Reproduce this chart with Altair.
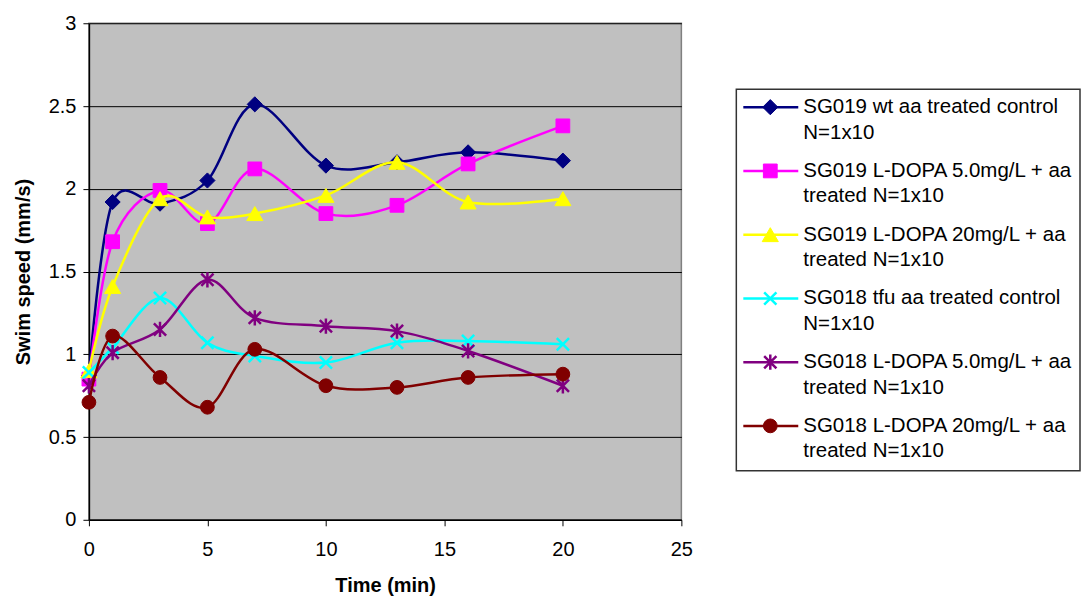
import altair as alt
import pandas as pd

# ---------------- data ----------------
times = [0, 1, 3, 5, 7, 10, 13, 16, 20]

series_names = [
    "SG019 wt aa treated control N=1x10",
    "SG019 L-DOPA 5.0mg/L + aa treated N=1x10",
    "SG019 L-DOPA 20mg/L + aa treated N=1x10",
    "SG018 tfu aa treated control N=1x10",
    "SG018 L-DOPA 5.0mg/L + aa treated N=1x10",
    "SG018 L-DOPA 20mg/L + aa treated N=1x10",
]
legend_labels = [
    "SG019 wt aa treated control\nN=1x10",
    "SG019 L-DOPA 5.0mg/L + aa\ntreated N=1x10",
    "SG019 L-DOPA 20mg/L + aa\ntreated N=1x10",
    "SG018 tfu aa treated control\nN=1x10",
    "SG018 L-DOPA 5.0mg/L + aa\ntreated N=1x10",
    "SG018 L-DOPA 20mg/L + aa\ntreated N=1x10",
]

sg019_wt_control = [0.87, 1.92, 1.91, 2.05, 2.51, 2.14, 2.16, 2.22, 2.17]
sg019_ldopa_5 = [0.85, 1.68, 1.99, 1.79, 2.12, 1.85, 1.90, 2.15, 2.38]
sg019_ldopa_20 = [0.90, 1.41, 1.94, 1.83, 1.85, 1.96, 2.16, 1.92, 1.94]
sg018_tfu_control = [0.89, 1.04, 1.34, 1.07, 0.99, 0.95, 1.07, 1.08, 1.06]
sg018_ldopa_5 = [0.81, 1.01, 1.15, 1.45, 1.22, 1.17, 1.14, 1.02, 0.81]
sg018_ldopa_20 = [0.71, 1.11, 0.86, 0.68, 1.03, 0.81, 0.80, 0.86, 0.88]

series_values = [sg019_wt_control, sg019_ldopa_5, sg019_ldopa_20,
                 sg018_tfu_control, sg018_ldopa_5, sg018_ldopa_20]

x_ticks = [0, 5, 10, 15, 20, 25]
y_ticks = [0, 0.5, 1, 1.5, 2, 2.5, 3]

# ---------------- styles ----------------
colors = ["#000080", "#FF00FF", "#FFFF00", "#00FFFF", "#800080", "#800000"]
X_PATH = "M-1,-1L1,1M-1,1L1,-1"
STAR_PATH = "M-1,-1L1,1M-1,1L1,-1M0,-1.25L0,1.25"
shapes = ["diamond", "square", "triangle-up", X_PATH, STAR_PATH, "circle"]
sizes = [230, 190, 260, 150, 150, 190]
stroke_widths = [1, 1, 1, 2.5, 2.5, 1]

FONT = "Liberation Sans"

rows = []
for name, vals in zip(series_names, series_values):
    for t, v in zip(times, vals):
        rows.append({"series": name, "time": t, "speed": v})
df = pd.DataFrame(rows)

legend_df = pd.DataFrame({"series": series_names, "label": legend_labels})

x_enc = alt.X(
    "time:Q",
    scale=alt.Scale(domain=[0, 25], nice=False, zero=False),
    axis=alt.Axis(values=x_ticks, title="Time (min)", grid=False,
                  tickSize=6, tickColor="black", labelPadding=14,
                  labelFontSize=20, labelColor="black", labelFont=FONT,
                  titleFontSize=20, titleFontWeight="bold", titleFont=FONT,
                  titleColor="black", titlePadding=16,
                  domainColor="black", domainWidth=1.5, labelFlush=False),
)
y_enc = alt.Y(
    "speed:Q",
    scale=alt.Scale(domain=[0, 3], nice=False, zero=True),
    axis=alt.Axis(values=y_ticks, format="~g", title="Swim speed (mm/s)",
                  grid=True, gridColor="black", gridWidth=1,
                  tickSize=6, tickColor="black", labelPadding=7,
                  labelFontSize=20, labelColor="black", labelFont=FONT,
                  titleFontSize=20, titleFontWeight="bold", titleFont=FONT,
                  titleColor="black", titlePadding=15,
                  domainColor="black", domainWidth=1.5, labelFlush=False),
)

layers = []
for name, c, sh, sz, sw in zip(series_names, colors, shapes, sizes, stroke_widths):
    base = alt.Chart(df).transform_filter(alt.datum.series == name)
    layers.append(
        base.mark_line(color=c, strokeWidth=2.5, interpolate="cardinal")
        .encode(x=x_enc, y=y_enc)
    )
    layers.append(
        base.mark_point(shape=sh, filled=True, fill=c, stroke=c, size=sz,
                        strokeWidth=sw, opacity=1)
        .encode(x=x_enc, y=y_enc)
    )

main = alt.layer(*layers).properties(
    width=593, height=497,
    view=alt.ViewBackground(fill="#C0C0C0", stroke="#808080", strokeWidth=1.5),
)

# ---------------- legend panel ----------------
ly = alt.Y("series:N",
           scale=alt.Scale(type="point", domain=series_names, range=[84, 403], padding=0),
           axis=None)

frame = alt.Chart(legend_df).transform_filter(
    alt.datum.series == series_names[0]
).mark_rect(fill="white", stroke="#333333", strokeWidth=1.5).encode(
    x=alt.value(0), x2=alt.value(344), y=alt.value(66), y2=alt.value(448)
)

leg_layers = [frame]
for name, c, sh, sz, sw in zip(series_names, colors, shapes, sizes, stroke_widths):
    lb = alt.Chart(legend_df).transform_filter(alt.datum.series == name)
    leg_layers.append(
        lb.mark_rule(color=c, strokeWidth=2.5).encode(
            x=alt.value(7), x2=alt.value(62), y=ly)
    )
    leg_layers.append(
        lb.mark_point(shape=sh, filled=True, fill=c, stroke=c, size=sz,
                      strokeWidth=sw, opacity=1).encode(x=alt.value(34), y=ly)
    )

leg_text = alt.Chart(legend_df).mark_text(
    align="left", baseline="middle", fontSize=20.5, lineHeight=25.5,
    lineBreak="\n", color="black", font=FONT
).encode(x=alt.value(67), y=ly, text="label:N")
leg_layers.append(leg_text)

legend = alt.layer(*leg_layers).properties(
    width=344, height=497,
    view=alt.ViewBackground(stroke="transparent", fill="transparent"),
)

chart = alt.hconcat(main, legend, spacing=55, bounds="flush").properties(
    padding={"left": 12, "top": 12, "right": 0, "bottom": 0},
    background="white",
).configure(font=FONT)

chart.save("out.html", embed_options={"renderer": "svg", "actions": False})
